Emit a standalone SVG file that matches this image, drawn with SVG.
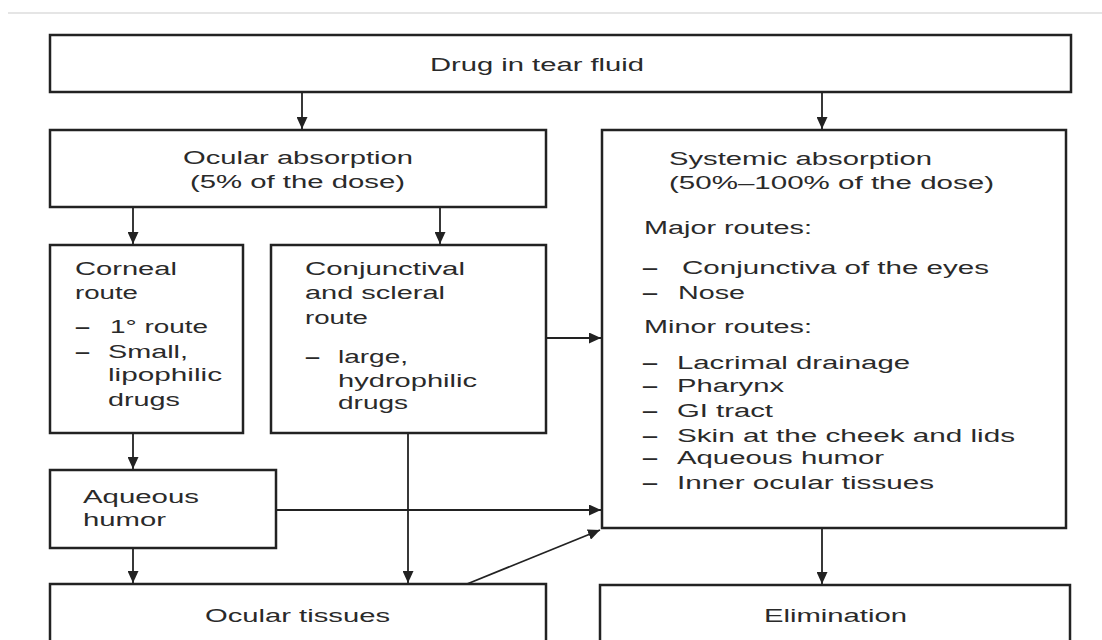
<svg xmlns="http://www.w3.org/2000/svg" width="1102" height="640" viewBox="0 0 1102 640">
<defs>
<marker id="ah" markerUnits="userSpaceOnUse" markerWidth="12" markerHeight="11" refX="12" refY="5.5" orient="auto">
<path d="M0,0 L12,5.5 L0,11 z" fill="#222"/>
</marker>
<style>
.box{fill:#fff;stroke:#222;stroke-width:2.5}
.con line{stroke:#222;stroke-width:1.8;marker-end:url(#ah)}
text{font-family:"Liberation Sans",Arial,sans-serif;font-size:18px;fill:#2a2a2a}
.d{font-weight:bold}
</style>
</defs>
<rect width="1102" height="640" fill="#fff"/>
<line x1="8" y1="13" x2="1102" y2="13" stroke="#ddd" stroke-width="1.5"/>

<g class="con">
<line x1="302" y1="92" x2="302" y2="129"/>
<line x1="822" y1="92" x2="822" y2="129"/>
<line x1="133" y1="207" x2="133" y2="244"/>
<line x1="440" y1="207" x2="440" y2="244"/>
<line x1="546" y1="338" x2="601" y2="338"/>
<line x1="133" y1="433" x2="133" y2="469"/>
<line x1="276" y1="510" x2="601" y2="510"/>
<line x1="133" y1="548" x2="133" y2="583"/>
<line x1="408" y1="433" x2="408" y2="583"/>
<line x1="467" y1="584" x2="600" y2="530"/>
<line x1="822" y1="528" x2="822" y2="584"/>
</g>

<g id="drug">
<rect class="box" x="50" y="35" width="1021" height="57"/>
<text x="430" y="71" textLength="214" lengthAdjust="spacingAndGlyphs">Drug in tear fluid</text>
</g>

<g id="ocular">
<rect class="box" x="50" y="130" width="496" height="77"/>
<text x="183" y="164" textLength="230" lengthAdjust="spacingAndGlyphs">Ocular absorption</text>
<text x="190" y="188" textLength="215" lengthAdjust="spacingAndGlyphs">(5% of the dose)</text>
</g>

<g id="systemic">
<rect class="box" x="602" y="130" width="464" height="398"/>
<text x="669" y="165" textLength="263" lengthAdjust="spacingAndGlyphs">Systemic absorption</text>
<text x="669" y="189" textLength="325" lengthAdjust="spacingAndGlyphs">(50%–100% of the dose)</text>
<text x="644" y="234" textLength="168" lengthAdjust="spacingAndGlyphs">Major routes:</text>
<text class="d" x="642" y="274" textLength="16" lengthAdjust="spacingAndGlyphs">–</text>
<text x="682" y="274" textLength="307" lengthAdjust="spacingAndGlyphs">Conjunctiva of the eyes</text>
<text class="d" x="642" y="299" textLength="16" lengthAdjust="spacingAndGlyphs">–</text>
<text x="678" y="299" textLength="67" lengthAdjust="spacingAndGlyphs">Nose</text>
<text x="644" y="333" textLength="168" lengthAdjust="spacingAndGlyphs">Minor routes:</text>
<text class="d" x="642" y="369" textLength="16" lengthAdjust="spacingAndGlyphs">–</text>
<text x="677" y="369" textLength="233" lengthAdjust="spacingAndGlyphs">Lacrimal drainage</text>
<text class="d" x="642" y="392" textLength="16" lengthAdjust="spacingAndGlyphs">–</text>
<text x="677" y="392" textLength="107" lengthAdjust="spacingAndGlyphs">Pharynx</text>
<text class="d" x="642" y="417" textLength="16" lengthAdjust="spacingAndGlyphs">–</text>
<text x="677" y="417" textLength="96" lengthAdjust="spacingAndGlyphs">GI tract</text>
<text class="d" x="642" y="442" textLength="16" lengthAdjust="spacingAndGlyphs">–</text>
<text x="677" y="442" textLength="338" lengthAdjust="spacingAndGlyphs">Skin at the cheek and lids</text>
<text class="d" x="642" y="464" textLength="16" lengthAdjust="spacingAndGlyphs">–</text>
<text x="677" y="464" textLength="207" lengthAdjust="spacingAndGlyphs">Aqueous humor</text>
<text class="d" x="642" y="489" textLength="16" lengthAdjust="spacingAndGlyphs">–</text>
<text x="677" y="489" textLength="257" lengthAdjust="spacingAndGlyphs">Inner ocular tissues</text>
</g>

<g id="corneal">
<rect class="box" x="50" y="245" width="193" height="188"/>
<text x="75" y="275" textLength="102" lengthAdjust="spacingAndGlyphs">Corneal</text>
<text x="75" y="299" textLength="63" lengthAdjust="spacingAndGlyphs">route</text>
<text class="d" x="75" y="333" textLength="15" lengthAdjust="spacingAndGlyphs">–</text>
<text x="110" y="333" textLength="98" lengthAdjust="spacingAndGlyphs">1° route</text>
<text class="d" x="75" y="358" textLength="15" lengthAdjust="spacingAndGlyphs">–</text>
<text x="108" y="358" textLength="80" lengthAdjust="spacingAndGlyphs">Small,</text>
<text x="108" y="381" textLength="114" lengthAdjust="spacingAndGlyphs">lipophilic</text>
<text x="108" y="406" textLength="72" lengthAdjust="spacingAndGlyphs">drugs</text>
</g>

<g id="conjunctival">
<rect class="box" x="271" y="245" width="275" height="188"/>
<text x="305" y="275" textLength="160" lengthAdjust="spacingAndGlyphs">Conjunctival</text>
<text x="305" y="299" textLength="140" lengthAdjust="spacingAndGlyphs">and scleral</text>
<text x="305" y="324" textLength="63" lengthAdjust="spacingAndGlyphs">route</text>
<text class="d" x="305" y="363" textLength="15" lengthAdjust="spacingAndGlyphs">–</text>
<text x="338" y="363" textLength="70" lengthAdjust="spacingAndGlyphs">large,</text>
<text x="338" y="387" textLength="139" lengthAdjust="spacingAndGlyphs">hydrophilic</text>
<text x="338" y="409" textLength="70" lengthAdjust="spacingAndGlyphs">drugs</text>
</g>

<g id="aqueous">
<rect class="box" x="50" y="470" width="226" height="78"/>
<text x="83" y="503" textLength="116" lengthAdjust="spacingAndGlyphs">Aqueous</text>
<text x="83" y="526" textLength="83" lengthAdjust="spacingAndGlyphs">humor</text>
</g>

<g id="ocular-tissues">
<rect class="box" x="50" y="584" width="496" height="80"/>
<text x="205" y="622" textLength="185" lengthAdjust="spacingAndGlyphs">Ocular tissues</text>
</g>

<g id="elimination">
<rect class="box" x="600" y="585" width="470" height="80"/>
<text x="764" y="622" textLength="143" lengthAdjust="spacingAndGlyphs">Elimination</text>
</g>
</svg>
